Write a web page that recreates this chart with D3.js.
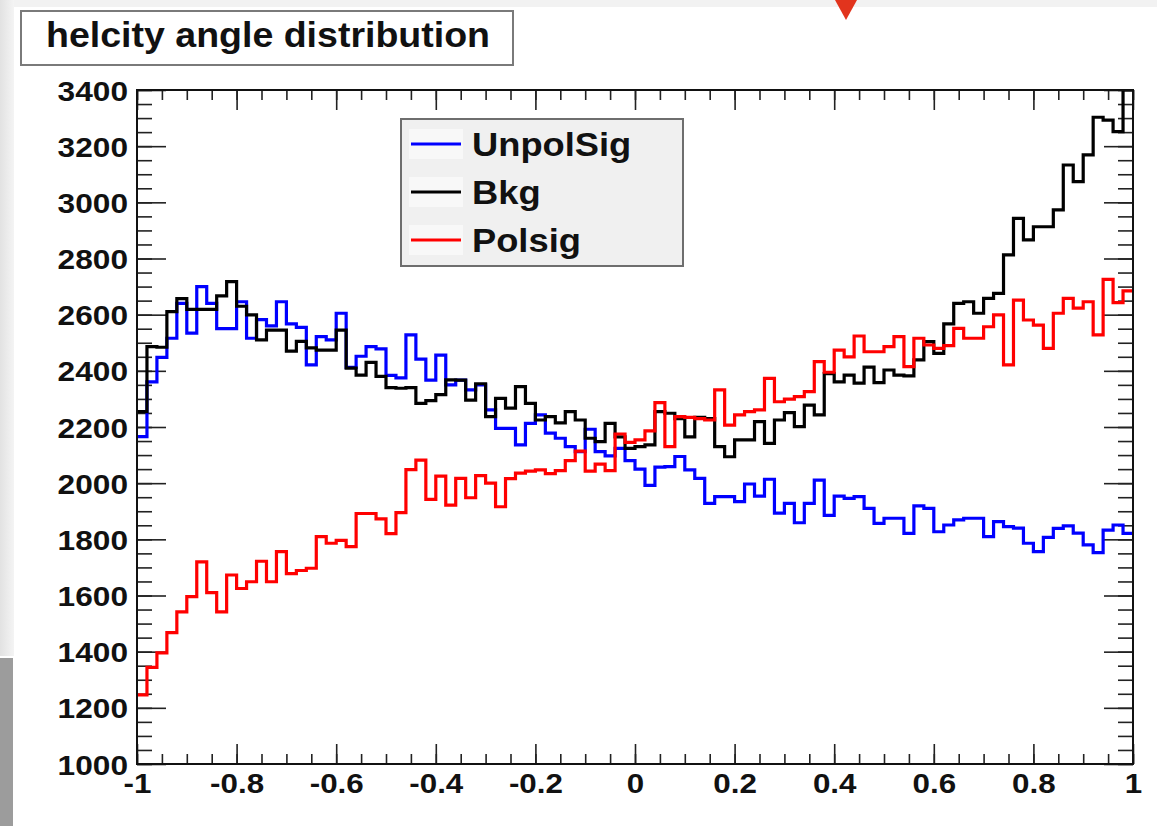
<!DOCTYPE html>
<html>
<head>
<meta charset="utf-8">
<script src="https://cdn.jsdelivr.net/npm/d3@7/dist/d3.min.js"></script>
<style>
  html, body { margin: 0; padding: 0; background: #ffffff; }
  svg { display: block; }
  text { font-family: "Liberation Sans", Arial, Helvetica, sans-serif; font-weight: bold; fill: #111; }
</style>
</head>
<body>
<svg id="chart" width="1157" height="826"></svg>
<script>
// Histogram: cos(helicity angle), 100 bins over [-1, 1]
const binLow = -1, binHigh = 1, nBins = 100;

const unpolSig = [
  2166, 2361, 2448, 2516, 2640, 2534, 2700, 2640, 2550, 2550,
  2646, 2516, 2582, 2560, 2646, 2567, 2555, 2421, 2522, 2510,
  2605, 2412, 2452, 2486, 2478, 2384, 2375, 2528, 2442, 2367,
  2456, 2350, 2367, 2332, 2350, 2261, 2195, 2195, 2136, 2213,
  2243, 2178, 2160, 2130, 2112, 2192, 2112, 2097, 2124, 2080,
  2050, 1992, 2057, 2059, 2095, 2047, 2017, 1928, 1952, 1952,
  1934, 1997, 1954, 2014, 1893, 1928, 1859, 1928, 2011, 1885,
  1954, 1946, 1952, 1910, 1857, 1875, 1875, 1821, 1919, 1910,
  1827, 1851, 1869, 1875, 1875, 1810, 1863, 1845, 1840, 1786,
  1756, 1807, 1839, 1848, 1822, 1780, 1753, 1833, 1851, 1821
];

const bkg = [
  2255, 2486, 2484, 2611, 2657, 2619, 2619, 2619, 2667, 2718,
  2630, 2599, 2510, 2545, 2545, 2470, 2505, 2482, 2474, 2474,
  2545, 2410, 2385, 2430, 2380, 2340, 2338, 2340, 2284, 2294,
  2315, 2368, 2367, 2296, 2354, 2237, 2302, 2267, 2344, 2284,
  2225, 2237, 2215, 2255, 2225, 2160, 2148, 2213, 2165, 2124,
  2130, 2136, 2255, 2249, 2230, 2165, 2234, 2230, 2130, 2094,
  2154, 2154, 2219, 2142, 2225, 2251, 2201, 2278, 2243, 2390,
  2361, 2385, 2356, 2413, 2358, 2403, 2385, 2382, 2439, 2504,
  2462, 2567, 2640, 2646, 2605, 2658, 2676, 2813, 2943, 2866,
  2913, 2913, 2973, 3133, 3074, 3169, 3303, 3293, 3252, 3400
];

const polSig = [
  1246, 1344, 1396, 1468, 1542, 1596, 1720, 1610, 1542, 1673,
  1625, 1649, 1722, 1649, 1756, 1678, 1689, 1697, 1810, 1786,
  1796, 1774, 1892, 1892, 1873, 1820, 1895, 2048, 2082, 1942,
  2025, 1922, 2017, 1948, 2027, 2000, 1916, 2016, 2036, 2043,
  2047, 2034, 2045, 2080, 2114, 2043, 2068, 2045, 2175, 2145,
  2154, 2186, 2287, 2130, 2237, 2234, 2230, 2225, 2332, 2207,
  2243, 2255, 2261, 2373, 2290, 2299, 2308, 2326, 2433, 2395,
  2474, 2450, 2524, 2468, 2468, 2486, 2522, 2415, 2516, 2492,
  2480, 2490, 2551, 2516, 2516, 2557, 2599, 2421, 2652, 2581,
  2563, 2480, 2605, 2658, 2623, 2646, 2528, 2726, 2643, 2685
];

const seriesNames = ["UnpolSig", "Bkg", "Polsig"];
const seriesColors = ["#0000ff", "#000000", "#ff0000"];
const seriesValues = [unpolSig, bkg, polSig];

const xTickValues = [-1, -0.8, -0.6, -0.4, -0.2, 0, 0.2, 0.4, 0.6, 0.8, 1];
const xTickLabels = ["-1", "-0.8", "-0.6", "-0.4", "-0.2", "0", "0.2", "0.4", "0.6", "0.8", "1"];
const yTickValues = [1000, 1200, 1400, 1600, 1800, 2000, 2200, 2400, 2600, 2800, 3000, 3200, 3400];
const yTickLabels = ["1000", "1200", "1400", "1600", "1800", "2000", "2200", "2400", "2600", "2800", "3000", "3200", "3400"];
const titleText = "helcity angle distribution";

const svg = d3.select("#chart");
const W = 1157, H = 826;
const frame = { left: 137, right: 1133, top: 90, bottom: 764 };

// stretch text horizontally (wide bold face used for this canvas)
function stretch(sel, f) {
  sel.each(function () {
    const w = this.getComputedTextLength();
    this.setAttribute("textLength", (w * f).toFixed(1));
    this.setAttribute("lengthAdjust", "spacingAndGlyphs");
  });
}

// ---- window backdrop ----
svg.append("rect").attr("x", 0).attr("y", 0).attr("width", W).attr("height", H).attr("fill", "#ffffff");
svg.append("rect").attr("x", 0).attr("y", 0).attr("width", W).attr("height", 7).attr("fill", "#f2f2f2");
const edgeGrad = svg.append("defs").append("linearGradient").attr("id", "edgeGrad")
  .attr("x1", 0).attr("x2", 1).attr("y1", 0).attr("y2", 0);
edgeGrad.append("stop").attr("offset", 0).attr("stop-color", "#e2e2e2");
edgeGrad.append("stop").attr("offset", 1).attr("stop-color", "#f4f4f4");
svg.append("rect").attr("x", 0).attr("y", 0).attr("width", 14).attr("height", 656).attr("fill", "url(#edgeGrad)");
svg.append("rect").attr("x", 0).attr("y", 658).attr("width", 13).attr("height", H - 658).attr("fill", "#9c9c9c");
svg.append("polygon").attr("points", "835,0 857,0 846,20").attr("fill", "#e2341d");

// ---- scales ----
const x = d3.scaleLinear().domain([binLow, binHigh]).range([frame.left, frame.right]);
const y = d3.scaleLinear().domain([1000, 3400]).range([frame.bottom, frame.top]);
const binWidth = (binHigh - binLow) / nBins;

// ---- frame and axes ----
const axes = svg.append("g").attr("class", "axes");
const xMinor = d3.range(0, 41).map(i => binLow + i * 0.05);
const yMinor = d3.range(0, 49).map(i => 1000 + i * 50);

function styleAxis(g) {
  g.select(".domain").remove();
  g.selectAll(".tick line").attr("stroke", "#222").attr("stroke-width", 1.6);
}

axes.append("g").attr("transform", `translate(0,${frame.bottom})`)
  .call(d3.axisBottom(x).tickValues(xMinor).tickSize(-10).tickFormat(""))
  .call(styleAxis);
axes.append("g").attr("transform", `translate(0,${frame.top})`)
  .call(d3.axisTop(x).tickValues(xMinor).tickSize(-10).tickFormat(""))
  .call(styleAxis);
axes.append("g").attr("transform", `translate(0,${frame.top})`)
  .call(d3.axisTop(x).tickValues(xTickValues).tickSize(-20).tickFormat(""))
  .call(styleAxis);
axes.append("g").attr("transform", `translate(${frame.left},0)`)
  .call(d3.axisLeft(y).tickValues(yMinor).tickSize(-15).tickFormat(""))
  .call(styleAxis);
axes.append("g").attr("transform", `translate(${frame.right},0)`)
  .call(d3.axisRight(y).tickValues(yMinor).tickSize(-15).tickFormat(""))
  .call(styleAxis);
axes.append("g").attr("transform", `translate(${frame.right},0)`)
  .call(d3.axisRight(y).tickValues(yTickValues).tickSize(-29).tickFormat(""))
  .call(styleAxis);

const xAxis = axes.append("g").attr("transform", `translate(0,${frame.bottom})`)
  .call(d3.axisBottom(x).tickValues(xTickValues).tickSize(-20).tickPadding(9)
    .tickFormat((d, i) => xTickLabels[i]))
  .call(styleAxis);
xAxis.selectAll("text").attr("font-size", 28).attr("fill", "#111")
  .style("font-family", '"Liberation Sans", Arial, sans-serif').style("font-weight", "bold");
stretch(xAxis.selectAll("text"), 1.12);

const yAxis = axes.append("g").attr("transform", `translate(${frame.left},0)`)
  .call(d3.axisLeft(y).tickValues(yTickValues).tickSize(-29).tickPadding(9)
    .tickFormat((d, i) => yTickLabels[i]))
  .call(styleAxis);
yAxis.selectAll("text").attr("font-size", 28).attr("fill", "#111").attr("dy", "0.36em")
  .style("font-family", '"Liberation Sans", Arial, sans-serif').style("font-weight", "bold");
stretch(yAxis.selectAll("text"), 1.13);

// ---- histograms ----
svg.append("defs").append("clipPath").attr("id", "frameClip")
  .append("rect").attr("x", frame.left).attr("y", frame.top - 1)
  .attr("width", frame.right - frame.left).attr("height", frame.bottom - frame.top + 1);

const step = d3.line().x(d => x(d[0])).y(d => y(d[1])).curve(d3.curveStepAfter);
const histG = svg.append("g").attr("clip-path", "url(#frameClip)");
seriesValues.forEach((vals, s) => {
  const pts = vals.map((v, i) => [binLow + i * binWidth, v]);
  pts.push([binHigh, vals[vals.length - 1]]);
  histG.append("path").datum(pts)
    .attr("d", step)
    .attr("fill", "none")
    .attr("stroke", seriesColors[s])
    .attr("stroke-width", 3.2)
    .attr("stroke-linejoin", "miter");
});

// frame on top
svg.append("rect")
  .attr("x", frame.left).attr("y", frame.top)
  .attr("width", frame.right - frame.left).attr("height", frame.bottom - frame.top)
  .attr("fill", "none").attr("stroke", "#111").attr("stroke-width", 2);

// ---- title box ----
svg.append("rect").attr("x", 21).attr("y", 11).attr("width", 492).attr("height", 54)
  .attr("fill", "#ffffff").attr("stroke", "#7a7a7a").attr("stroke-width", 2);
const title = svg.append("text").attr("x", 46).attr("y", 47)
  .attr("font-size", 35).text(titleText);
title.attr("textLength", 444).attr("lengthAdjust", "spacingAndGlyphs");

// ---- legend ----
const legend = svg.append("g");
legend.append("rect").attr("x", 401).attr("y", 119).attr("width", 282).attr("height", 147)
  .attr("fill", "#f0f0f0").attr("stroke", "#6e6e6e").attr("stroke-width", 2);
const rowY = [144, 192, 240];
seriesNames.forEach((name, i) => {
  legend.append("rect").attr("x", 409).attr("y", rowY[i] - 15).attr("width", 54).attr("height", 30)
    .attr("fill", "#f8f8f8");
  legend.append("line").attr("x1", 411).attr("x2", 461).attr("y1", rowY[i]).attr("y2", rowY[i])
    .attr("stroke", seriesColors[i]).attr("stroke-width", 3);
  const t = legend.append("text").attr("x", 472).attr("y", rowY[i] + 12)
    .attr("font-size", 33).text(name);
  stretch(t, 1.1);
});
</script>
</body>
</html>
